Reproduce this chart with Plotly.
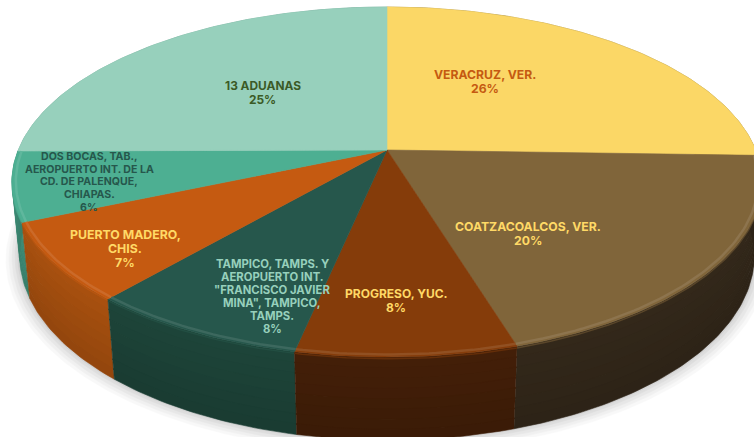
import math
import plotly.graph_objects as go

# ---- data -------------------------------------------------------------
categories = ["VERACRUZ, VER.", "COATZACOALCOS, VER.", "PROGRESO, YUC.",
              "TAMPICO, TAMPS. Y AEROPUERTO INT. \"FRANCISCO JAVIER MINA\", TAMPICO, TAMPS.",
              "PUERTO MADERO, CHIS.",
              "DOS BOCAS, TAB., AEROPUERTO INT. DE LA CD. DE PALENQUE, CHIAPAS.",
              "13 ADUANAS"]
values = [25.5, 19.8, 8.0, 8.0, 7.2, 6.4, 25.1]

# ---- styling ----------------------------------------------------------
top_colors = ["#FBD766", "#80653A", "#853C0A", "#26574C", "#C55A11", "#4DAF92", "#97D0BC"]
side_colors = ["#8F7A3A", "#33281A", "#431F08", "#1D4439", "#A8500F", "#3F9079", "#6FA594"]
text_colors = ["#C55A11", "#FFD966", "#FFD966", "#97D0BC", "#FFD966", "#26574C", "#3B5A26"]
label_lines = [["VERACRUZ, VER."], ["COATZACOALCOS, VER."], ["PROGRESO, YUC."],
               ["TAMPICO, TAMPS. Y", "AEROPUERTO INT.", "\"FRANCISCO JAVIER", "MINA\", TAMPICO,", "TAMPS."],
               ["PUERTO MADERO,", "CHIS."],
               ["DOS BOCAS, TAB.,", "AEROPUERTO INT. DE LA", "CD. DE PALENQUE,", "CHIAPAS."],
               ["13 ADUANAS"]]
label_x = [485, 528, 396, 272, 125, 89, 262.5]
label_y = [74, 226, 293, 264, 234, 156.5, 85]
label_step = [14, 14, 14, 13, 14, 12.7, 14]
label_size = [12.2, 12.2, 12, 11.3, 12.3, 10.6, 11.9]
FONT = "Inter"

W, H = 754, 437
CX, CY = 387, 150
A, B, K, D, M = 368.7, 169.2, 0.183, 73, 0.02


def project(theta, r=1.0, z=0.0):
    u, v = r * math.sin(theta), r * math.cos(theta)
    w = 1 + K * v + M * z
    return CX + A * u / w, CY + (-B * v + D * z) / w


def arc(t0, t1, r=1.0, z=0.0):
    n = max(2, int(abs(t1 - t0) * 60))
    pts = [project(t0 + (t1 - t0) * i / n, r, z) for i in range(n + 1)]
    return [p[0] for p in pts], [p[1] for p in pts]


def blend(c, other, f):
    a = [int(c[i:i + 2], 16) for i in (1, 3, 5)]
    b = [int(other[i:i + 2], 16) for i in (1, 3, 5)]
    return "#%02x%02x%02x" % tuple(round(x + (y - x) * f) for x, y in zip(a, b))


def poly(fig, xs, ys, color, opacity=None):
    fig.add_trace(go.Scatter(x=xs, y=ys, mode="lines", fill="toself", fillcolor=color,
                             line=dict(color=color, width=0.6), hoverinfo="skip",
                             showlegend=False, opacity=opacity))


total = sum(values)
angles = [0.0]
for val in values:
    angles.append(angles[-1] + 2 * math.pi * val / total)

fig = go.Figure()

# soft shadow under the disc
for e, op in [(0.036, 0.035), (0.028, 0.04), (0.02, 0.05), (0.012, 0.06), (0.005, 0.08)]:
    xs, ys = arc(0, 2 * math.pi, 1 + e, 1.0 + e)
    poly(fig, xs, ys, "#555555", op)

# side walls: drawn back to front, with a slight top-to-bottom shading
order = sorted(range(len(values)),
               key=lambda i: math.cos((angles[i] + angles[i + 1]) / 2), reverse=True)
STRIPS = 8
for i in order:
    for s in range(STRIPS):
        z0, z1 = s / STRIPS, (s + 1) / STRIPS
        xa, ya = arc(angles[i], angles[i + 1], 1.0, z0)
        xb, yb = arc(angles[i], angles[i + 1], 1.0, z1 + 0.01)
        col = blend(side_colors[i], "#000000", 0.12 * s / (STRIPS - 1))
        poly(fig, xa + xb[::-1], ya + yb[::-1], col)
    xs, ys = arc(angles[i], angles[i + 1], 1.0, 0.02)
    fig.add_trace(go.Scatter(x=xs, y=ys, mode="lines", hoverinfo="skip", showlegend=False,
                             line=dict(color=blend(side_colors[i], top_colors[i], 0.5), width=1.5)))

# top faces
for i in range(len(values)):
    xs, ys = arc(angles[i], angles[i + 1])
    poly(fig, [CX] + xs + [CX], [CY] + ys + [CY], top_colors[i])

# bevel highlight along the front rim only
for i in range(len(values)):
    t0, t1 = angles[i], angles[i + 1]
    if math.cos((t0 + t1) / 2) > 0.2:
        continue
    xs, ys = arc(t0, t1, 0.99)
    fig.add_trace(go.Scatter(x=xs, y=ys, mode="lines", hoverinfo="skip", showlegend=False,
                             line=dict(color=blend(top_colors[i], "#FFFFFF", 0.1), width=2.5)))

# labels, one annotation per line so that the line spacing can be set
for i in range(len(values)):
    lines = label_lines[i] + [f"{100 * values[i] / total:.0f}%"]
    for j, line in enumerate(lines):
        fig.add_annotation(x=label_x[i], y=label_y[i] + j * label_step[i], text=f"<b>{line}</b>",
                           showarrow=False, xanchor="center", yanchor="middle",
                           font=dict(family=FONT, size=label_size[i], color=text_colors[i]))

fig.update_layout(width=W, height=H, margin=dict(l=0, r=0, t=0, b=0),
                  paper_bgcolor="white", plot_bgcolor="white", showlegend=False,
                  xaxis=dict(range=[0, W], visible=False, fixedrange=True),
                  yaxis=dict(range=[H, 0], visible=False, fixedrange=True))
fig.write_html("out.html", config={"displayModeBar": False},
               post_script="document.body.style.margin='0';document.body.style.overflow='hidden';")
